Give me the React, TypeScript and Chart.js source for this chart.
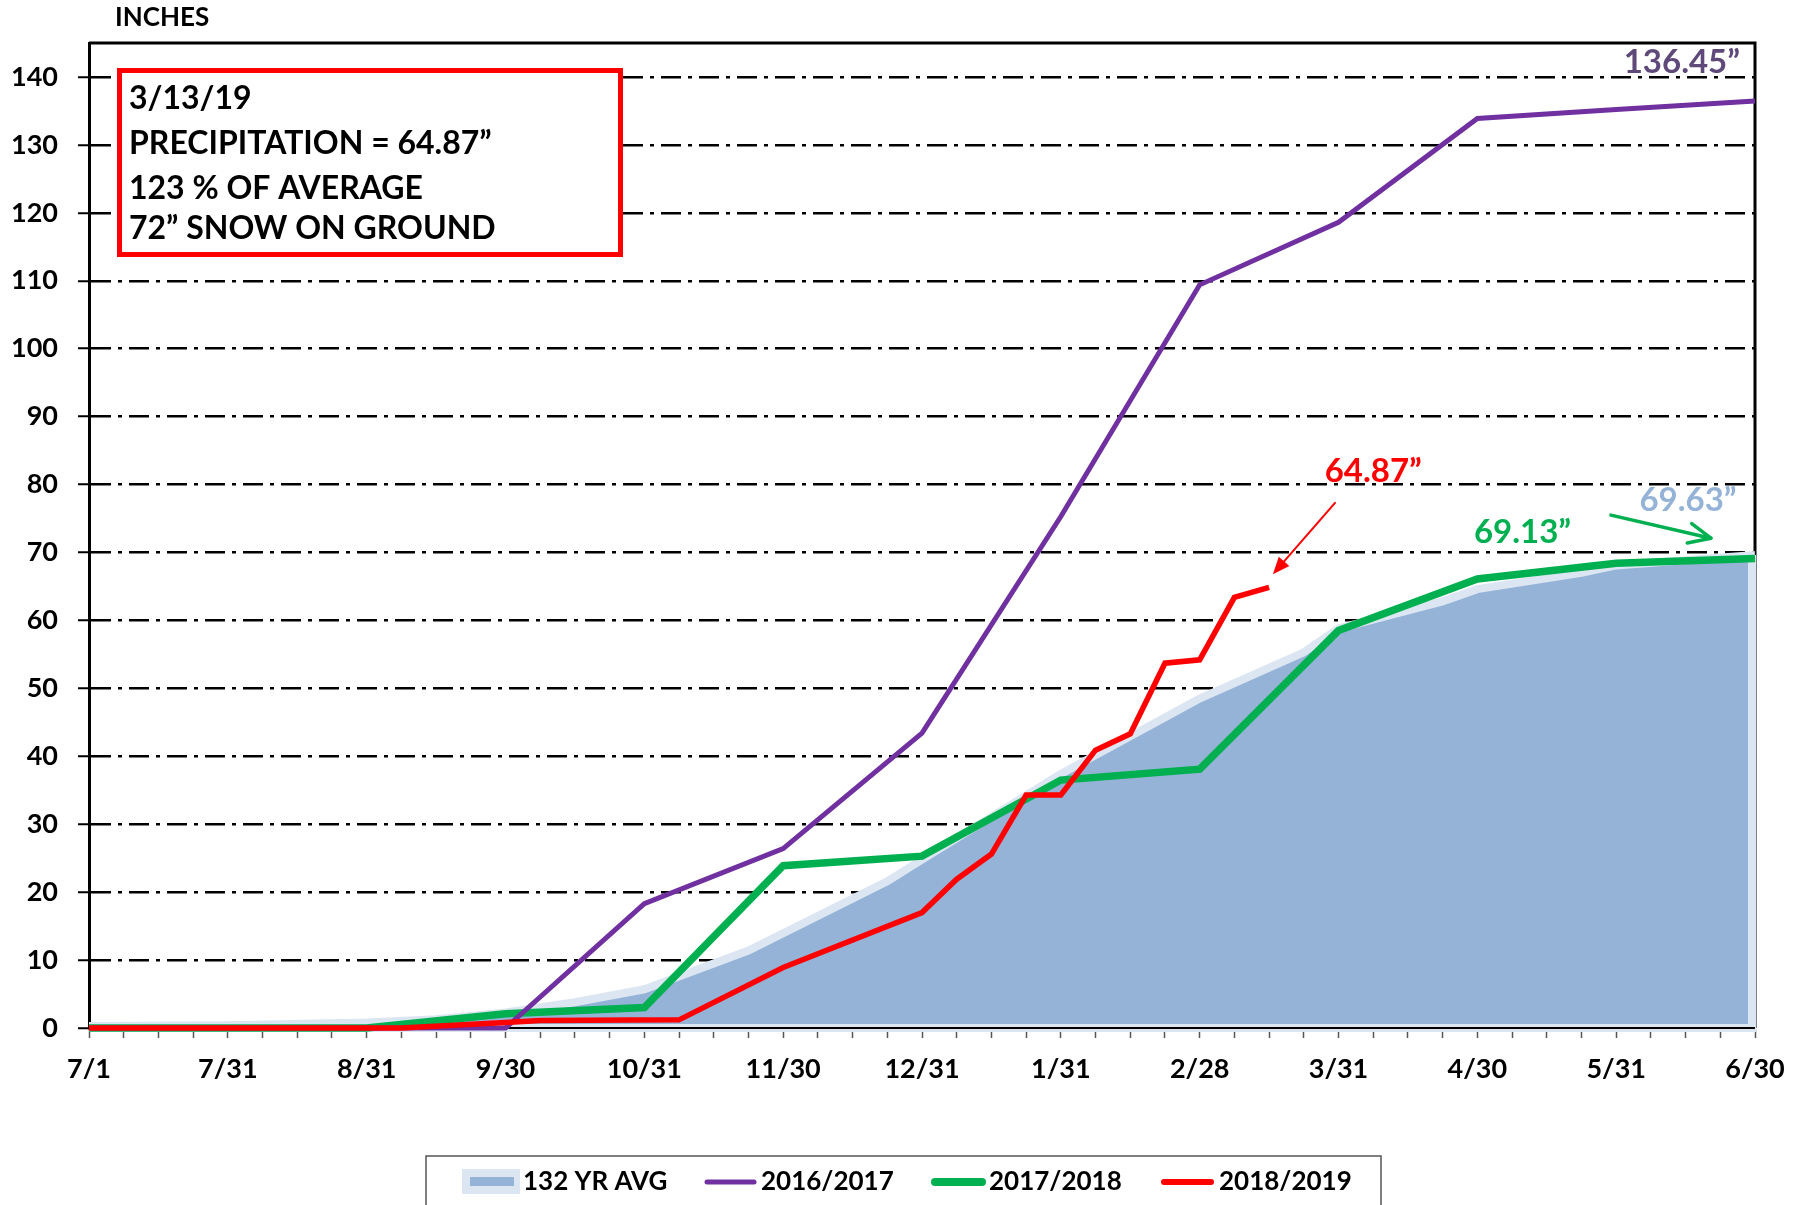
import React, { useEffect, useRef } from 'react';
import { Chart, registerables } from 'chart.js';

Chart.register(...registerables);

// ---------- data ----------
const monthLabels = ['7/1', '7/31', '8/31', '9/30', '10/31', '11/30', '12/31', '1/31', '2/28', '3/31', '4/30', '5/31', '6/30'];
const yTickStep = 10;

// x = week index (0 = 7/1, 48 = 6/30), y = inches
const avgIdx = [0, 4, 8, 10, 12, 14, 16, 19, 23, 24, 28, 32, 35, 36, 39, 40, 43, 44, 48];
const avgVal = [0.3, 0.4, 0.8, 1.3, 2.3, 3.8, 5.7, 11.4, 21.6, 24.8, 37.4, 48.5, 55.3, 58.8, 62.8, 64.6, 67.0, 68.1, 69.63];

const y1617Idx = [0, 12, 16, 20, 24, 28, 32, 36, 40, 44, 48];
const y1617Val = [0, 0, 18.3, 26.4, 43.4, 75.3, 109.4, 118.6, 133.9, 135.2, 136.45];

const y1718Idx = [0, 8, 12, 16, 20, 24, 28, 32, 36, 40, 44, 48];
const y1718Val = [0, 0, 2.1, 3.0, 23.9, 25.3, 36.5, 38.1, 58.5, 66.1, 68.4, 69.13];

const y1819Idx = [0, 9, 12, 13, 17, 20, 24, 25, 26, 27, 28, 29, 30, 31, 32, 33, 34];
const y1819Val = [0, 0, 0.8, 1.1, 1.2, 8.9, 17.0, 21.9, 25.6, 34.3, 34.3, 40.9, 43.3, 53.7, 54.2, 63.4, 64.87];

const infoLines = ['3/13/19', 'PRECIPITATION = 64.87\u201d', '123 % OF AVERAGE', '72\u201d SNOW ON GROUND'];
const seriesNames = ['132 YR AVG', '2016/2017', '2017/2018', '2018/2019'];

const COLORS = {
  avg: '#95B3D7',
  avgEdge: '#DCE6F2',
  p1617: '#7030A0',
  p1617Label: '#5F497A',
  p1718: '#00B050',
  p1819: '#FF0000',
};

const FONT = 'Lato';

const pts = (xs: number[], ys: number[]) => xs.map((x, i) => ({ x, y: ys[i] }));

function drawArrow(ctx: CanvasRenderingContext2D, x1: number, y1: number, x2: number, y2: number, color: string, width: number, headLen: number, headHalf: number, filled: boolean) {
  const ang = Math.atan2(y2 - y1, x2 - x1);
  const bx = x2 - headLen * Math.cos(ang);
  const by = y2 - headLen * Math.sin(ang);
  const nx = -Math.sin(ang), ny = Math.cos(ang);
  ctx.save();
  ctx.strokeStyle = color;
  ctx.fillStyle = color;
  ctx.lineWidth = width;
  ctx.lineCap = 'round';
  ctx.beginPath();
  ctx.moveTo(x1, y1);
  ctx.lineTo(filled ? bx : x2, filled ? by : y2);
  ctx.stroke();
  if (filled) {
    ctx.beginPath();
    ctx.moveTo(x2, y2);
    ctx.lineTo(bx + nx * headHalf, by + ny * headHalf);
    ctx.lineTo(bx - nx * headHalf, by - ny * headHalf);
    ctx.closePath();
    ctx.fill();
  } else {
    ctx.lineJoin = 'round';
    ctx.beginPath();
    ctx.moveTo(bx + nx * headHalf, by + ny * headHalf);
    ctx.lineTo(x2, y2);
    ctx.lineTo(bx - nx * headHalf, by - ny * headHalf);
    ctx.stroke();
  }
  ctx.restore();
}

const AREA_INDEX = 3;

const overlayPlugin = {
  id: 'overlay',
  beforeDatasetsDraw(chart: any) {
    const { ctx, chartArea: a } = chart;
    ctx.save();
    ctx.strokeStyle = '#000';
    ctx.lineWidth = 3;
    ctx.beginPath();
    ctx.moveTo(a.left, a.top);
    ctx.lineTo(a.right, a.top);
    ctx.lineTo(a.right, a.bottom);
    ctx.stroke();
    ctx.restore();
  },
  afterDatasetDraw(chart: any, args: any) {
    if (args.index !== AREA_INDEX) return;
    const { ctx, chartArea: a } = chart;
    const data = args.meta.data;
    const first = data[0];
    const last = data[data.length - 1];
    const y0 = chart.scales.y.getPixelForValue(0);
    ctx.save();
    ctx.strokeStyle = COLORS.avgEdge;
    ctx.lineWidth = 8;
    ctx.beginPath();
    ctx.moveTo(last.x - 3, last.y);
    ctx.lineTo(last.x - 3, y0);
    ctx.lineTo(first.x, y0);
    ctx.stroke();
    ctx.strokeStyle = '#000';
    ctx.lineWidth = 2;
    ctx.beginPath();
    ctx.moveTo(a.left, y0);
    ctx.lineTo(a.right, y0);
    ctx.stroke();
    ctx.restore();
  },
  afterDraw(chart: any) {
    const { ctx, chartArea: a } = chart;
    const xs = chart.scales.x;
    const ys = chart.scales.y;
    const X = (v: number) => xs.getPixelForValue(v);
    const Y = (v: number) => ys.getPixelForValue(v);

    ctx.save();
    // axis title
    ctx.fillStyle = '#000';
    ctx.font = `bold 26px ${FONT}`;
    ctx.textAlign = 'left';
    ctx.textBaseline = 'middle';
    ctx.fillText('INCHES', 115, 18);

    // info box
    const bx = a.left + 28, by = a.top + 25, bw = 506, bh = 189;
    ctx.fillStyle = '#fff';
    ctx.fillRect(bx, by, bw, bh);
    ctx.strokeStyle = '#FF0000';
    ctx.lineWidth = 5;
    ctx.strokeRect(bx + 2.5, by + 2.5, bw - 5, bh - 5);
    ctx.fillStyle = '#000';
    ctx.font = `bold 32px ${FONT}`;
    const lineY = [31, 76, 121, 161];
    infoLines.forEach((t, i) => ctx.fillText(t, bx + 12, by + lineY[i]));

    // value labels
    ctx.font = `bold 33px ${FONT}`;
    ctx.textAlign = 'right';
    ctx.fillStyle = COLORS.p1617Label;
    ctx.fillText('136.45\u201d', a.right - 15, Y(142.1));
    ctx.textAlign = 'center';
    ctx.fillStyle = COLORS.p1819;
    ctx.fillText('64.87\u201d', X(37.0), Y(81.9));
    ctx.fillStyle = COLORS.p1718;
    ctx.fillText('69.13\u201d', X(41.3), Y(73.0));
    ctx.fillStyle = COLORS.avg;
    ctx.fillText('69.63\u201d', X(46.07), Y(77.7));

    // arrows
    drawArrow(ctx, X(35.9), Y(77.3), X(34.11), Y(66.8), COLORS.p1819, 2, 17, 7, true);
    drawArrow(ctx, X(43.85), Y(75.5), X(46.73), Y(72.1), COLORS.p1718, 3.5, 22, 10, false);

    // legend
    const lx = 426, ly = 1156, lr = 1381;
    ctx.strokeStyle = '#555';
    ctx.lineWidth = 1.5;
    ctx.strokeRect(lx, ly, lr - lx, 80);
    const cy = 1182;
    ctx.fillStyle = COLORS.avgEdge;
    ctx.fillRect(462, 1169, 58, 25);
    ctx.fillStyle = COLORS.avg;
    ctx.fillRect(470, 1177, 44, 9);
    const legendLine = (x1: number, x2: number, color: string, w: number) => {
      ctx.strokeStyle = color;
      ctx.lineWidth = w;
      ctx.lineCap = 'round';
      ctx.beginPath();
      ctx.moveTo(x1, cy);
      ctx.lineTo(x2, cy);
      ctx.stroke();
    };
    legendLine(707, 754, COLORS.p1617, 5);
    legendLine(935, 982, COLORS.p1718, 8);
    legendLine(1164, 1211, COLORS.p1819, 6);
    ctx.fillStyle = '#000';
    ctx.font = `bold 26px ${FONT}`;
    ctx.textAlign = 'left';
    ctx.textBaseline = 'middle';
    const textX = [523, 761, 989, 1219];
    seriesNames.forEach((t, i) => ctx.fillText(t, textX[i], cy));
    ctx.restore();
  },
};

export default function App() {
  const ref = useRef<HTMLCanvasElement | null>(null);

  useEffect(() => {
    document.body.style.margin = '0';
    const canvas = ref.current;
    if (!canvas) return;
    const tickFont = { family: FONT, size: 27, weight: 'bold' as const };
    const chart = new Chart(canvas, {
      type: 'line',
      data: {
        datasets: [
          {
            label: seriesNames[3],
            data: pts(y1819Idx, y1819Val),
            borderColor: COLORS.p1819,
            borderWidth: 5.5,
            fill: false,
            clip: false,
            order: 0,
          },
          {
            label: seriesNames[1],
            data: pts(y1617Idx, y1617Val),
            borderColor: COLORS.p1617,
            borderWidth: 5,
            fill: false,
            clip: false,
            order: 1,
          },
          {
            label: seriesNames[2],
            data: pts(y1718Idx, y1718Val),
            borderColor: COLORS.p1718,
            borderWidth: 7.5,
            fill: false,
            clip: false,
            order: 2,
          },
          {
            label: seriesNames[0],
            data: pts(avgIdx, avgVal),
            borderColor: COLORS.avgEdge,
            backgroundColor: COLORS.avg,
            borderWidth: 8,
            fill: 'origin',
            order: 3,
          },
        ],
      },
      options: {
        animation: false,
        responsive: false,
        maintainAspectRatio: false,
        layout: { padding: { left: 0, top: 43, right: 52, bottom: 97 } },
        plugins: {
          legend: { display: false },
          tooltip: { enabled: false },
        },
        elements: {
          point: { radius: 0, hoverRadius: 0 },
          line: { tension: 0, borderJoinStyle: 'miter', borderCapStyle: 'butt' },
        },
        scales: {
          x: {
            type: 'linear',
            min: 0,
            max: 48,
            afterFit: (s: any) => { s.height = 80; },
            ticks: {
              stepSize: 1,
              autoSkip: false,
              maxRotation: 0,
              minRotation: 0,
              padding: 15,
              color: '#000',
              font: tickFont,
              callback: (v: any) => (Number(v) % 4 === 0 ? monthLabels[Number(v) / 4] : ''),
            },
            grid: {
              drawOnChartArea: false,
              drawTicks: true,
              tickLength: 10,
              tickColor: '#555',
              tickWidth: 1.5,
            },
            border: { color: '#000', width: 2 },
          },
          y: {
            min: 0,
            max: 145,
            afterFit: (s: any) => { s.width = 89; },
            ticks: {
              stepSize: yTickStep,
              includeBounds: false,
              padding: 20,
              color: '#000',
              font: tickFont,
            },
            grid: {
              color: '#000',
              lineWidth: 2.5,
              tickLength: 11,
              tickColor: '#000',
              tickWidth: 2,
              tickBorderDash: [],
            },
            border: { color: '#000', width: 3, dash: [20, 7, 4, 7] },
          },
        },
      },
      plugins: [overlayPlugin],
    } as any);
    return () => chart.destroy();
  }, []);

  return (
    <canvas
      ref={ref}
      width={1807}
      height={1205}
      style={{ display: 'block', position: 'absolute', left: 0, top: 0, width: 1807, height: 1205 }}
    />
  );
}
